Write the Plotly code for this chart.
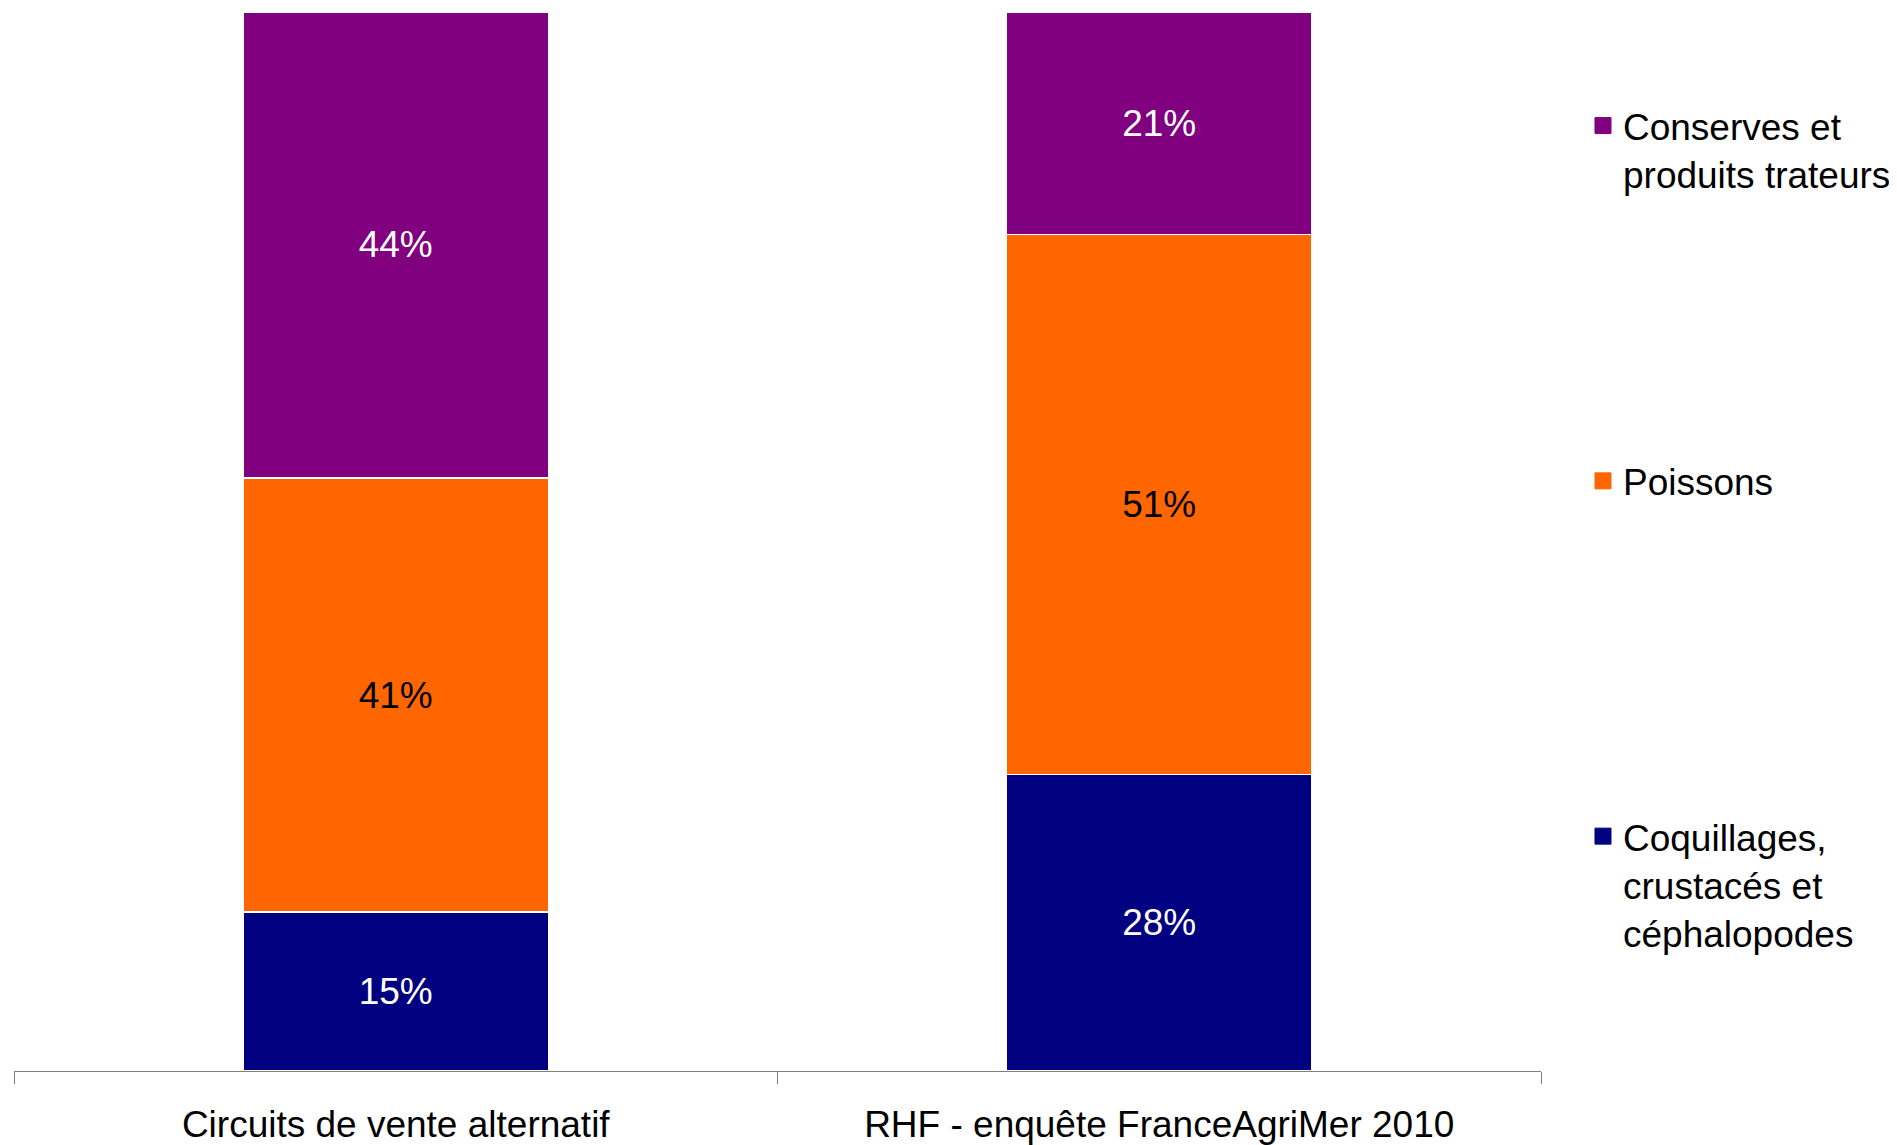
import plotly.graph_objects as go

categories = ["Circuits de vente alternatif", "RHF - enquête FranceAgriMer 2010"]
coquillages = [15, 28]
poissons = [41, 51]
conserves = [44, 21]

series = [
    ("Coquillages, crustacés et céphalopodes", coquillages, "#000080", "white"),
    ("Poissons", poissons, "#FF6600", "black"),
    ("Conserves et produits trateurs", conserves, "#800080", "white"),
]
# legend text as displayed (top to bottom), padded to equal line count
legend_labels = {
    "Conserves et produits trateurs": "Conserves et<br>produits trateurs<br> ",
    "Poissons": "Poissons<br> <br> ",
    "Coquillages, crustacés et céphalopodes": "Coquillages,<br>crustacés et<br>céphalopodes",
}

FONT = "Arial, 'Liberation Sans', sans-serif"
# page body has an 8px margin: figure sized to fill the remaining window
W, H = 1889, 1137
ML, MR, MT, MB = 6, 356, 4, 74
PH = H - MT - MB

fig = go.Figure()
for name, vals, color, tcolor in series:
    fig.add_trace(go.Bar(
        x=categories, y=vals, name=name,
        marker=dict(color=color, line=dict(color="white", width=1.5)),
        text=[f"{v}%" for v in vals], textposition="inside",
        insidetextanchor="middle",
        textfont=dict(family=FONT, size=37, color=tcolor),
        showlegend=False, hoverinfo="x+y+name",
    ))

# legend entries (top to bottom)
for name, vals, color, tcolor in reversed(series):
    fig.add_trace(go.Scatter(
        x=[None], y=[None], mode="markers", name=legend_labels[name],
        marker=dict(symbol="square", size=16, color=color,
                    line=dict(color=color, width=1)),
        legendgroup=name, showlegend=True,
    ))

fig.update_layout(
    width=W, height=H,
    margin=dict(l=ML, r=MR, t=MT, b=MB, autoexpand=False),
    barmode="stack", bargap=0.6,
    plot_bgcolor="white", paper_bgcolor="white",
    font=dict(family=FONT, size=37, color="black"),
    legend=dict(
        x=1.0275, y=1 - 83 / PH, xanchor="left", yanchor="top",
        traceorder="grouped", tracegroupgap=208, valign="top",
        font=dict(family=FONT, size=37, color="black"),
        bgcolor="rgba(0,0,0,0)", itemclick=False, itemdoubleclick=False,
    ),
    xaxis=dict(
        type="category", range=[-0.5, 1.5], automargin=False,
        showline=True, linecolor="#808080", linewidth=1.2,
        ticks="outside", tickson="boundaries", ticklen=12,
        tickcolor="#808080", tickwidth=1.2,
        ticklabelstandoff=20,
        tickfont=dict(family=FONT, size=37, color="black"),
        showgrid=False, zeroline=False,
    ),
    yaxis=dict(range=[0, 100], visible=False, showgrid=False,
               zeroline=False, automargin=False),
)

fig.write_html("out.html")
